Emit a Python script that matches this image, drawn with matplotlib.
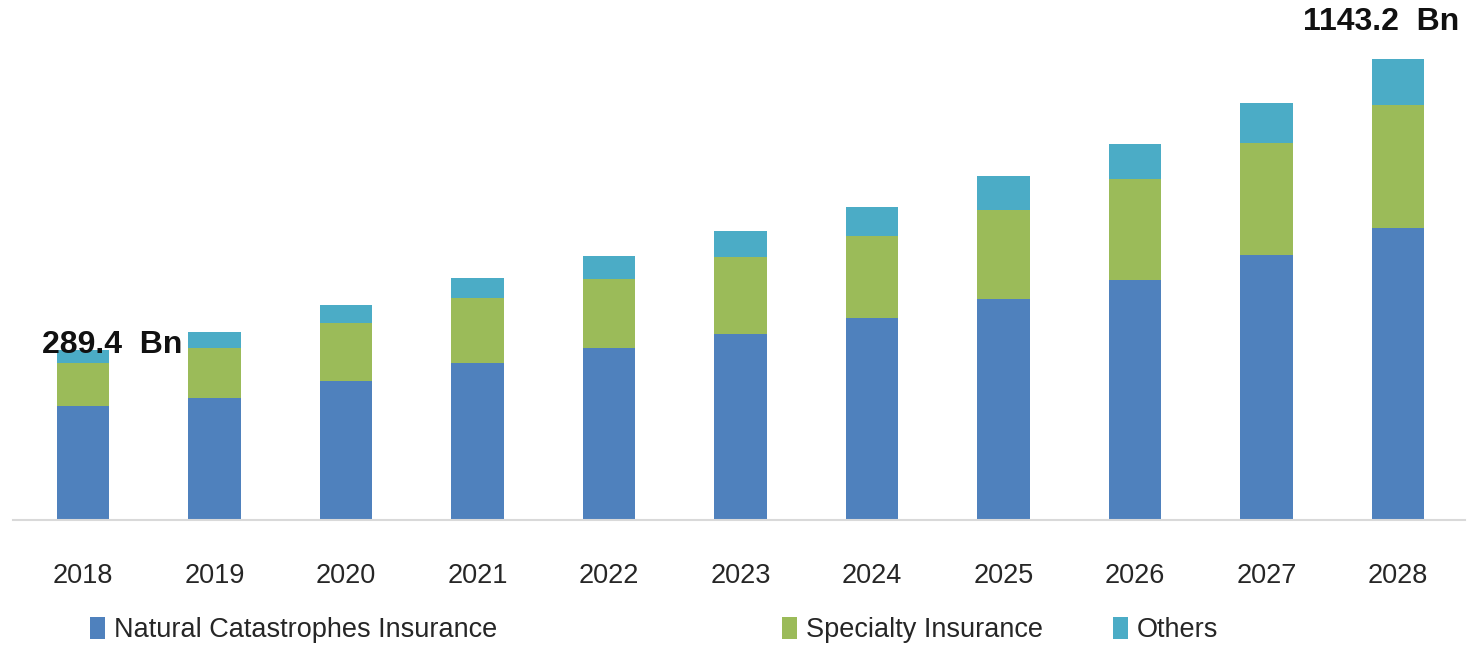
import matplotlib.pyplot as plt
import numpy as np

# values (bar heights in the chart's own scale, 2028 total = 1143.2)
years = ["2018", "2019", "2020", "2021", "2022", "2023", "2024", "2025", "2026", "2027", "2028"]
natural_cat = [282.7, 302.5, 344.7, 389.3, 426.5, 461.3, 500.9, 548.1, 595.2, 657.2, 724.1]
specialty = [106.6, 124.0, 143.8, 161.2, 171.1, 191.0, 203.4, 220.7, 250.5, 277.8, 305.0]
others = [32.2, 39.7, 44.6, 49.6, 57.0, 64.5, 71.9, 84.3, 86.8, 99.2, 114.1]
series_names = ["Natural Catastrophes Insurance", "Specialty Insurance", "Others"]
first_label = "289.4  Bn"
last_label = "1143.2  Bn"

colors = ("#4F81BD", "#9BBB59", "#4BACC6")
plt.rcParams["font.family"] = ["Liberation Sans", "DejaVu Sans"]

W, H = 1476, 647
fig = plt.figure(figsize=(W / 100, H / 100), dpi=100)
ax = fig.add_axes([13 / W, 127 / H, (1465 - 13) / W, 520 / H])

x = np.arange(len(years))
bar_width = 0.4
b1 = ax.bar(x, natural_cat, width=bar_width, color=colors[0])
b2 = ax.bar(x, specialty, width=bar_width, bottom=natural_cat, color=colors[1])
bottom3 = np.array(natural_cat) + np.array(specialty)
b3 = ax.bar(x, others, width=bar_width, bottom=bottom3, color=colors[2])

totals = bottom3 + np.array(others)

ax.set_xlim(-0.533, 10.51)
ax.set_ylim(0, 1289.5)
ax.set_xticks(x)
ax.set_xticklabels(years, fontsize=19.5, color="#262626")
ax.tick_params(axis="x", length=0, pad=31)
ax.set_yticks([])
for side in ("left", "right", "top"):
    ax.spines[side].set_visible(False)
ax.spines["bottom"].set_color("#d9d9d9")
ax.spines["bottom"].set_linewidth(1.5)

ax.text(x[0] + 0.22, totals[0] + 12, first_label, ha="center", va="center",
        fontsize=23, fontweight="bold", color="#111111")
ax.text(x[-1] - 0.125, totals[-1] + 92, last_label, ha="center", va="center",
        fontsize=23, fontweight="bold", color="#111111", clip_on=False)

# legend entries are spaced unevenly in the original, so place each one
legend_x = [90, 782, 1113]
for handle, name, lx in zip((b1, b2, b3), series_names, legend_x):
    fig.legend([handle], [name], loc="center left", bbox_to_anchor=(lx / W, 1 - 630 / H),
               frameon=False, fontsize=19.5, borderpad=0, borderaxespad=0,
               handlelength=0.55, handleheight=0.85, handletextpad=0.33,
               labelcolor="#262626")

fig.savefig("out.png", dpi=100)
